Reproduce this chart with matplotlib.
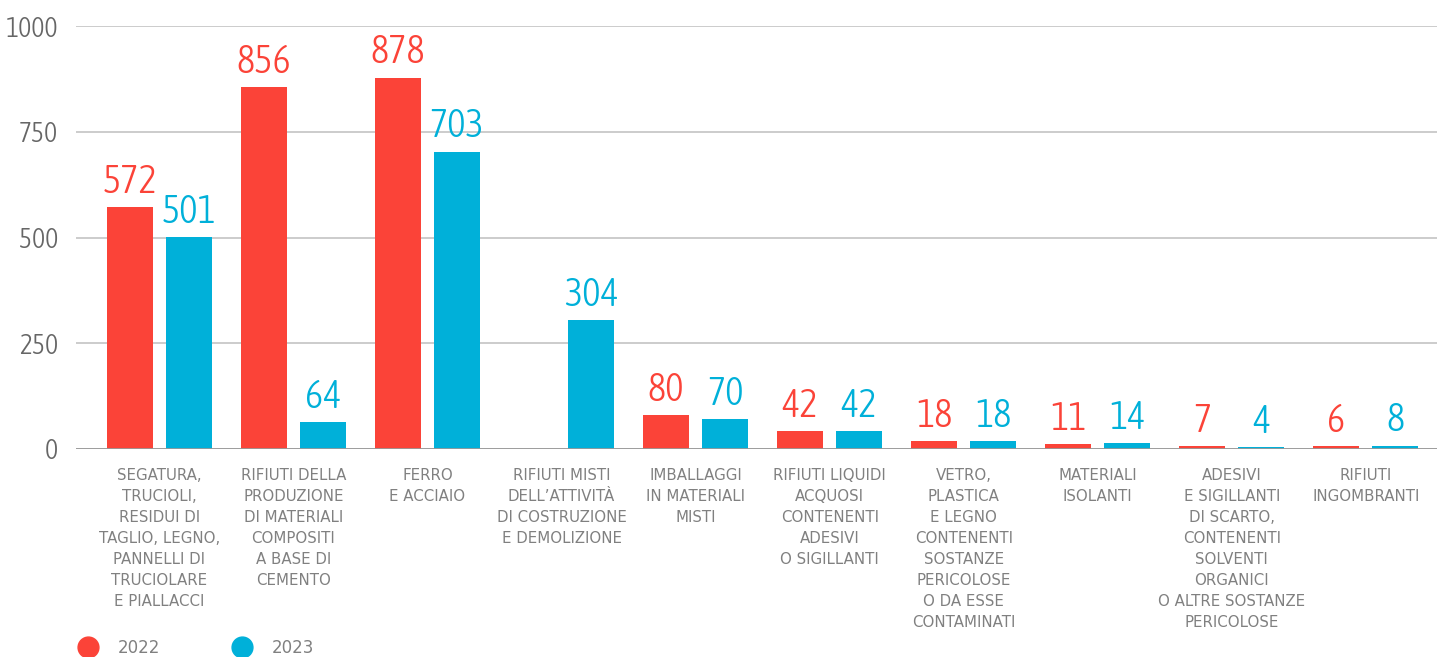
import numpy as np
import matplotlib.pyplot as plt
from matplotlib import font_manager
from matplotlib.lines import Line2D

# dati
categorie = [
    'SEGATURA,\nTRUCIOLI,\nRESIDUI DI\nTAGLIO, LEGNO,\nPANNELLI DI\nTRUCIOLARE\nE PIALLACCI',
    'RIFIUTI DELLA\nPRODUZIONE\nDI MATERIALI\nCOMPOSITI\nA BASE DI\nCEMENTO',
    'FERRO\nE ACCIAIO',
    'RIFIUTI MISTI\nDELL\u2019ATTIVIT\u00c0\nDI COSTRUZIONE\nE DEMOLIZIONE',
    'IMBALLAGGI\nIN MATERIALI\nMISTI',
    'RIFIUTI LIQUIDI\nACQUOSI\nCONTENENTI\nADESIVI\nO SIGILLANTI',
    'VETRO,\nPLASTICA\nE LEGNO\nCONTENENTI\nSOSTANZE\nPERICOLOSE\nO DA ESSE\nCONTAMINATI',
    'MATERIALI\nISOLANTI',
    'ADESIVI\nE SIGILLANTI\nDI SCARTO,\nCONTENENTI\nSOLVENTI\nORGANICI\nO ALTRE SOSTANZE\nPERICOLOSE',
    'RIFIUTI\nINGOMBRANTI',
]
valori_2022 = [572, 856, 878, None, 80, 42, 18, 11, 7, 6]
valori_2023 = [501, 64, 703, 304, 70, 42, 18, 14, 4, 8]
anni = ['2022', '2023']

rosso = '#fb4338'
blu = '#00b0d9'
grigio = '#808080'


def cerca_stretto(pesi):
    # cerca un font condensed/narrow installato con uno dei pesi richiesti
    for f in font_manager.fontManager.ttflist:
        nome = (f.name + ' ' + str(f.fname)).lower()
        if f.style != 'normal' or 'italic' in nome:
            continue
        if ('condensed' in nome or 'narrow' in nome) and f.weight in pesi:
            if 'semi' in nome or 'extra' in nome:
                continue
            return font_manager.FontProperties(fname=f.fname)
    return None


fp_num = cerca_stretto((400, 'normal', 'regular')) or font_manager.FontProperties(family='DejaVu Sans')
fp_light = cerca_stretto((300, 'light')) or fp_num

fig = plt.figure(figsize=(14.37, 6.57), dpi=100)
ax = fig.add_axes([0.053, 0.3166, 0.947, 0.6438])

x = np.arange(len(categorie))
larg = 0.343
off = 0.22

for valori, col, dx in [(valori_2022, rosso, -off), (valori_2023, blu, off)]:
    for xi, v in zip(x, valori):
        if v is None:
            continue
        ax.bar(xi + dx, v, width=larg, color=col, zorder=3)
        ax.text(xi + dx, v + 15, str(v), ha='center', va='bottom',
                color=col, fontproperties=fp_light, fontsize=28, clip_on=False)

ax.set_xlim(-0.62, 9.53)
ax.set_ylim(0, 1000)
ax.set_yticks([0, 250, 500, 750, 1000])
ax.grid(axis='y', color='#c8c8c8', linewidth=1.3, zorder=0)
ax.axhline(0, color='#999999', linewidth=2, zorder=4)
for s in ax.spines.values():
    s.set_visible(False)
ax.tick_params(axis='y', length=0, pad=13, labelcolor='#666666')
for lab in ax.get_yticklabels():
    lab.set_fontproperties(fp_light)
    lab.set_fontsize(20)
ax.set_xticks([])

for xi, testo in zip(x, categorie):
    ax.text(xi, -45, testo, ha='center', va='top', color=grigio, fontsize=10.8,
            family='DejaVu Sans', linespacing=1.5, clip_on=False)

maniglie = [Line2D([], [], marker='o', linestyle='', markersize=15, color=c) for c in [rosso, blu]]
fig.legend(maniglie, anni, loc='center left', bbox_to_anchor=(0.039, 0.014), ncol=2,
           frameon=False, prop={'family': 'DejaVu Sans', 'size': 12}, labelcolor=grigio,
           handletextpad=0.8, columnspacing=3.9)

plt.savefig('out.png', dpi=100)
